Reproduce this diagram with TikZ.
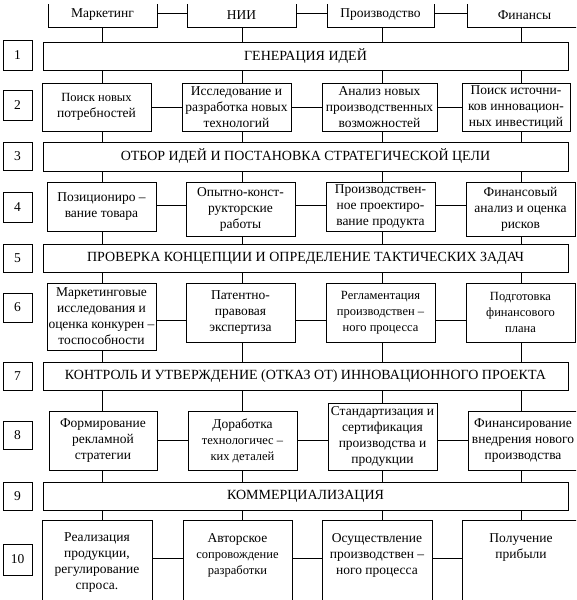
\documentclass[tikz,border=0pt]{standalone}
\usepackage{fontspec}
\setmainfont{Liberation Serif}
\newcommand\sm{\fontsize{12.5}{14.5}\selectfont}
\newcommand\cbox[6][]{\node[bx,minimum width={#4-#2},minimum height={#5-#3},#1] (#6) at ({(#2+#4)/2},{(#3+#5)/2})}
\begin{document}
\begin{tikzpicture}[x=1pt,y=-1pt,line width=0.8pt,
  bx/.style={draw,align=center,inner sep=0pt,font=\fontsize{13.5}{16}\selectfont},
  stage/.style={font=\fontsize{14}{16}\selectfont}]
\useasboundingbox (0,0) rectangle (576,600);
\clip (0,4) rectangle (576,600);
% top
\cbox{48}{3}{157}{27}{ta} {Маркетинг};
\cbox{187}{3}{296}{27}{tb} {НИИ};
\cbox{327}{3}{434}{27}{tc} {Производство};
\cbox{467}{3}{582}{27}{td} {Финансы};
% numbers
\cbox{3}{40}{32}{70}{n1} {1};
\cbox{3}{90}{32}{120}{n2} {2};
\cbox{3}{142}{32}{170}{n3} {3};
\cbox{3}{192}{32}{222}{n4} {4};
\cbox{3}{244}{32}{272}{n5} {5};
\cbox{3}{293}{32}{322}{n6} {6};
\cbox{3}{362}{32}{390}{n7} {7};
\cbox{3}{421}{32}{449}{n8} {8};
\cbox{3}{482}{32}{510}{n9} {9};
\cbox{3}{544}{32}{575}{n10} {10};
% main stages
\cbox[stage]{43}{42}{568}{70}{m1} {ГЕНЕРАЦИЯ ИДЕЙ};
\cbox[stage]{43}{142}{568}{171}{m3} {ОТБОР ИДЕЙ И ПОСТАНОВКА СТРАТЕГИЧЕСКОЙ ЦЕЛИ};
\cbox[stage]{43}{244}{568}{272}{m5} {ПРОВЕРКА КОНЦЕПЦИИ И ОПРЕДЕЛЕНИЕ ТАКТИЧЕСКИХ ЗАДАЧ};
\cbox[stage]{43}{362}{568}{390}{m7} {КОНТРОЛЬ И УТВЕРЖДЕНИЕ (ОТКАЗ ОТ) ИННОВАЦИОННОГО ПРОЕКТА};
\cbox[stage]{43}{482}{568}{510}{m9} {КОММЕРЦИАЛИЗАЦИЯ};
% row 2
\cbox{42}{83}{151}{131}{r2a} {\fontsize{12.5}{15}\selectfont Поиск новых\\потребностей};
\cbox{182}{83}{291}{131}{r2b} {Исследование и\\разработка новых\\технологий};
\cbox{322}{83}{437}{131}{r2c} {Анализ новых\\производственных\\возможностей};
\cbox{462}{83}{570}{131}{r2d} {Поиск источни-\\ков инновацион-\\ных инвестиций};
% row 4
\cbox{47}{182}{156}{231}{r4a} {Позициониро –\\вание товара};
\cbox{186}{182}{295}{236}{r4b} {Опытно-конст-\\рукторские\\работы};
\cbox{326}{182}{435}{231}{r4c} {Производствен-\\ное проектиро-\\вание продукта};
\cbox{466}{182}{575}{236}{r4d} {Финансовый\\анализ и оценка\\рисков};
% row 6
\cbox{47}{283}{156}{350}{r6a} {Маркетинговые\\исследования и\\оценка конкурен –\\тоспособности};
\cbox{186}{283}{295}{342}{r6b} {Патентно-\\правовая\\экспертиза};
\cbox{326}{283}{435}{342}{r6c} {\sm Регламентация\\\sm производствен –\\\sm ного процесса};
\cbox{466}{283}{575}{342}{r6d} {\sm Подготовка\\\sm финансового\\\sm плана};
% row 8
\cbox{49}{411}{157}{470}{r8a} {Формирование\\рекламной\\стратегии};
\cbox{188}{411}{297}{470}{r8b} {Доработка\\\sm технологичес –\\\sm ких деталей};
\cbox{328}{403}{437}{470}{r8c} {Стандартизация и\\сертификация\\производства и\\продукции};
\cbox{468}{411}{578}{470}{r8d} {Финансирование\\внедрения нового\\производства};
% row 10
\cbox{42}{520}{152}{605}{r10a} {Реализация\\продукции,\\регулирование\\спроса.};
\cbox{183}{520}{292}{605}{r10b} {Авторское\\\sm сопровождение\\\sm разработки\\\mbox{}};
\cbox{322}{520}{432}{605}{r10c} {Осуществление\\производствен –\\ного процесса\\\mbox{}};
\cbox{462}{520}{580}{605}{r10d} {Получение\\прибыли\\\mbox{}\\\mbox{}};
% column lines
\coordinate (c1) at (102,0);
\coordinate (c2) at (242,0);
\coordinate (c3) at (382,0);
\coordinate (c4) at (521,0);
\foreach \c/\t in {c1/a,c2/b,c3/c,c4/d}{
  \draw (t\t.south -| \c) -- (m1.north -| \c);
  \draw (m1.south -| \c) -- (r2\t.north -| \c);
  \draw (r2\t.south -| \c) -- (m3.north -| \c);
  \draw (m3.south -| \c) -- (r4\t.north -| \c);
  \draw (r4\t.south -| \c) -- (m5.north -| \c);
  \draw (m5.south -| \c) -- (r6\t.north -| \c);
  \draw (r6\t.south -| \c) -- (m7.north -| \c);
  \draw (m7.south -| \c) -- (r8\t.north -| \c);
  \draw (r8\t.south -| \c) -- (m9.north -| \c);
  \draw (m9.south -| \c) -- (r10\t.north -| \c);
}
% row lines
\coordinate (h0) at (0,13);
\coordinate (h2) at (0,107);
\coordinate (h4) at (0,205);
\coordinate (h6) at (0,320);
\coordinate (h8) at (0,440);
\coordinate (h10) at (0,558);
\draw (ta.east |- h0) -- (tb.west |- h0);
\draw (tb.east |- h0) -- (tc.west |- h0);
\draw (tc.east |- h0) -- (td.west |- h0);
\foreach \r in {2,4,6,8,10}{
  \draw (r\r a.east |- h\r) -- (r\r b.west |- h\r);
  \draw (r\r b.east |- h\r) -- (r\r c.west |- h\r);
  \draw (r\r c.east |- h\r) -- (r\r d.west |- h\r);
}
\end{tikzpicture}
\end{document}
